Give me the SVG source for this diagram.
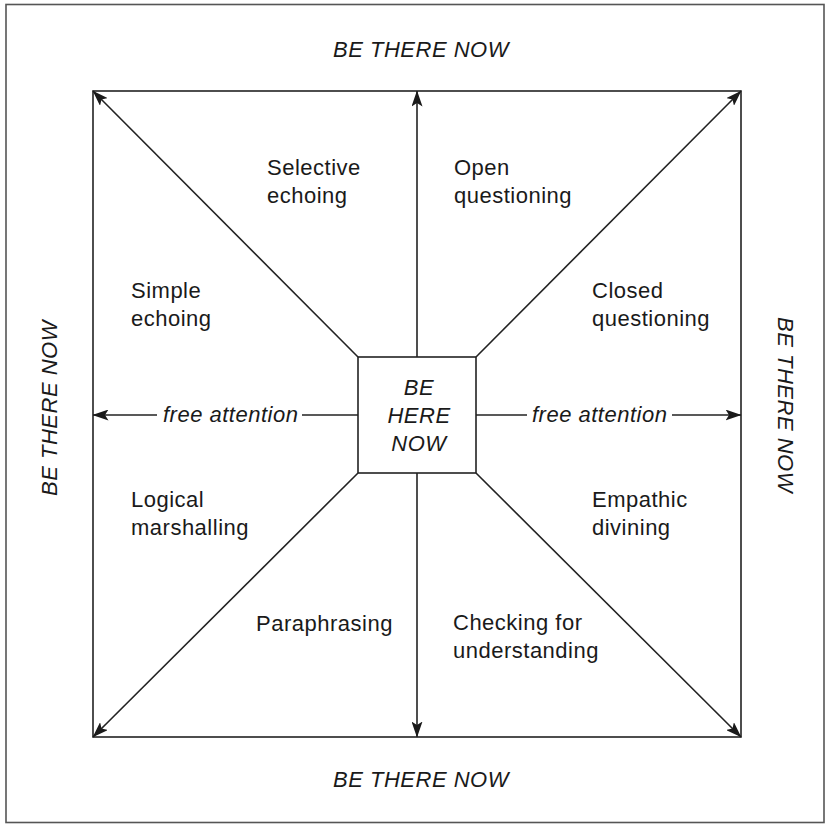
<svg xmlns="http://www.w3.org/2000/svg" width="827" height="825" viewBox="0 0 827 825">
<style>
.t{font-family:"Liberation Sans",Arial,sans-serif;font-size:22px;letter-spacing:0.5px;fill:#1a1a1a}
.i{font-style:italic}
.c{text-anchor:middle}
.ln{stroke:#222;stroke-width:1.6;fill:none}
.frame{stroke:#555;stroke-width:1.6;fill:none}
</style>
<defs>
<marker id="ah" viewBox="0 0 16 11" refX="15.5" refY="5.5" markerWidth="16" markerHeight="11" markerUnits="userSpaceOnUse" orient="auto">
<path d="M0,0 L16,5.5 L0,11 L3.5,5.5 Z" fill="#1a1a1a"/>
</marker>
</defs>
<rect width="827" height="825" fill="#fff"/>
<g id="frame">
<rect class="frame" x="6" y="4.5" width="818" height="818"/>
</g>
<g id="inner-square">
<rect class="ln" x="93" y="91" width="648" height="646"/>
</g>
<g id="connectors">
<line class="ln" x1="358" y1="357" x2="93" y2="91" marker-end="url(#ah)"/>
<line class="ln" x1="476" y1="357" x2="741" y2="91" marker-end="url(#ah)"/>
<line class="ln" x1="358" y1="473" x2="93" y2="737" marker-end="url(#ah)"/>
<line class="ln" x1="476" y1="473" x2="741" y2="737" marker-end="url(#ah)"/>
<line class="ln" x1="417" y1="357" x2="417" y2="91" marker-end="url(#ah)"/>
<line class="ln" x1="417" y1="473" x2="417" y2="737" marker-end="url(#ah)"/>
<line class="ln" x1="302" y1="415" x2="358" y2="415"/>
<line class="ln" x1="157" y1="415" x2="93" y2="415" marker-end="url(#ah)"/>
<line class="ln" x1="476" y1="415" x2="527" y2="415"/>
<line class="ln" x1="672" y1="415" x2="741" y2="415" marker-end="url(#ah)"/>
<text class="t i" x="163" y="422">free attention</text>
<text class="t i" x="532" y="422">free attention</text>
</g>
<g id="center">
<rect class="ln" x="358" y="357" width="118" height="116" fill="#fff"/>
<text class="t i c" x="419" y="395">BE</text>
<text class="t i c" x="419" y="423">HERE</text>
<text class="t i c" x="419" y="451">NOW</text>
</g>
<g id="be-there-top"><text class="t i c" x="421" y="57">BE THERE NOW</text></g>
<g id="be-there-bottom"><text class="t i c" x="421" y="787">BE THERE NOW</text></g>
<g id="be-there-left"><text class="t i c" transform="translate(57,408) rotate(-90)">BE THERE NOW</text></g>
<g id="be-there-right"><text class="t i c" transform="translate(778,405) rotate(90)">BE THERE NOW</text></g>
<g id="selective-echoing"><text class="t" x="267" y="175">Selective</text><text class="t" x="267" y="203">echoing</text></g>
<g id="open-questioning"><text class="t" x="454" y="175">Open</text><text class="t" x="454" y="203">questioning</text></g>
<g id="simple-echoing"><text class="t" x="131" y="298">Simple</text><text class="t" x="131" y="326">echoing</text></g>
<g id="closed-questioning"><text class="t" x="592" y="298">Closed</text><text class="t" x="592" y="326">questioning</text></g>
<g id="logical-marshalling"><text class="t" x="131" y="507">Logical</text><text class="t" x="131" y="535">marshalling</text></g>
<g id="empathic-divining"><text class="t" x="592" y="507">Empathic</text><text class="t" x="592" y="535">divining</text></g>
<g id="paraphrasing"><text class="t" x="256" y="631">Paraphrasing</text></g>
<g id="checking"><text class="t" x="453" y="630">Checking for</text><text class="t" x="453" y="658">understanding</text></g>
</svg>
